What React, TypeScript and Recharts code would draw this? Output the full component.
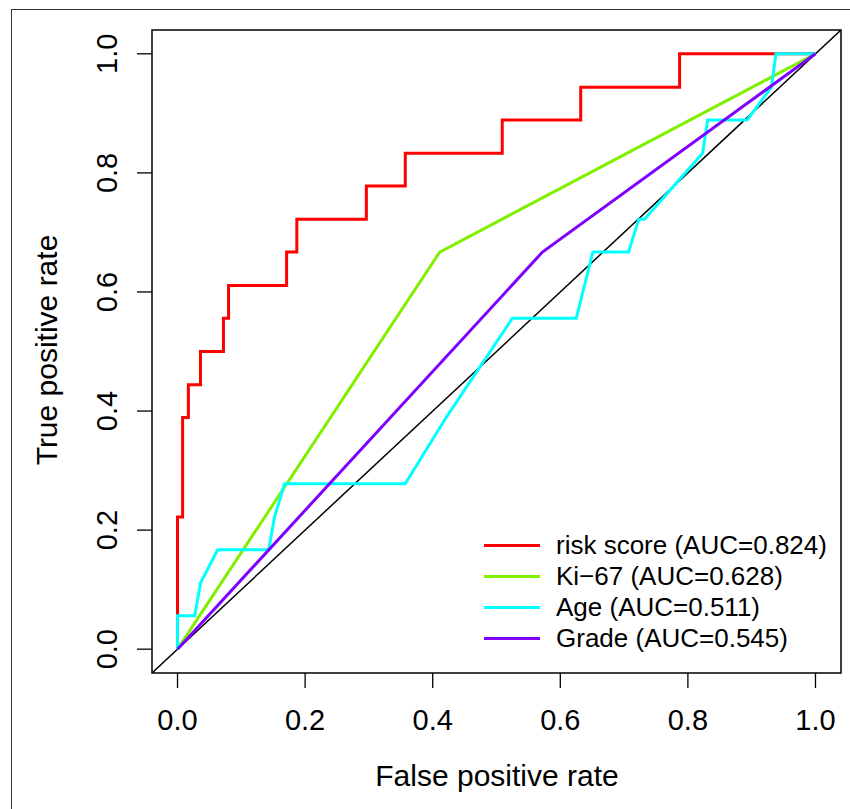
import React from 'react';
import {
  LineChart,
  Line,
  XAxis,
  YAxis,
  ReferenceArea,
} from 'recharts';

// ROC points (FPR, TPR)
const riskFpr = [0, 0, 0.008, 0.008, 0.017, 0.017, 0.036, 0.036, 0.072, 0.072, 0.08, 0.08, 0.171, 0.171, 0.187, 0.187, 0.296, 0.296, 0.357, 0.357, 0.509, 0.509, 0.632, 0.632, 0.787, 0.787, 1];
const riskTpr = [0, 0.222, 0.222, 0.389, 0.389, 0.444, 0.444, 0.5, 0.5, 0.556, 0.556, 0.611, 0.611, 0.667, 0.667, 0.722, 0.722, 0.778, 0.778, 0.833, 0.833, 0.889, 0.889, 0.944, 0.944, 1, 1];

const kiFpr = [0, 0.411, 1];
const kiTpr = [0, 0.667, 1];

const ageFpr = [0, 0, 0.027, 0.036, 0.063, 0.143, 0.152, 0.168, 0.357, 0.421, 0.525, 0.625, 0.651, 0.707, 0.723, 0.732, 0.823, 0.831, 0.893, 0.931, 0.938, 1];
const ageTpr = [0, 0.056, 0.056, 0.111, 0.167, 0.167, 0.222, 0.278, 0.278, 0.389, 0.556, 0.556, 0.667, 0.667, 0.722, 0.722, 0.833, 0.889, 0.889, 0.944, 1, 1];

const gradeFpr = [0, 0.572, 1];
const gradeTpr = [0, 0.667, 1];

const diagonal = [-0.04, 1.04];

const ticks = [0, 0.2, 0.4, 0.6, 0.8, 1];

const seriesNames = ['risk score (AUC=0.824)', 'Ki\u221267 (AUC=0.628)', 'Age (AUC=0.511)', 'Grade (AUC=0.545)'];
const seriesColors = ['#FF0000', '#80F000', '#00FFFF', '#7F00FF'];

const toPoints = (xs: number[], ys: number[]) => xs.map((x, i) => ({ x, y: ys[i] }));

const FONT = '"Liberation Sans", Arial, Helvetica, sans-serif';

const XTick = (props: any) => {
  const { x, y, payload } = props;
  return (
    <text x={x} y={y + 40} textAnchor="middle" fontSize={29} fontFamily={FONT} fill="#000">
      {payload.value.toFixed(1)}
    </text>
  );
};

const YTick = (props: any) => {
  const { y, payload } = props;
  const bx = 117;
  return (
    <text x={bx} y={y} textAnchor="middle" fontSize={29} fontFamily={FONT} fill="#000" transform={`rotate(-90, ${bx}, ${y})`}>
      {payload.value.toFixed(1)}
    </text>
  );
};

const LegendBox = () => (
  <div style={{ position: 'absolute', left: 484, top: 530, fontFamily: FONT, fontSize: 26, color: '#000' }}>
    {seriesNames.map((name, i) => (
      <div key={name} style={{ display: 'flex', alignItems: 'center', height: 31 }}>
        <svg width={72} height={31} style={{ flex: 'none' }}>
          <line x1={0} y1={15.5} x2={56} y2={15.5} stroke={seriesColors[i]} strokeWidth={3} />
        </svg>
        <span style={{ whiteSpace: 'nowrap', lineHeight: '31px' }}>{name}</span>
      </div>
    ))}
  </div>
);

const App: React.FC = () => {
  const series = [
    toPoints(riskFpr, riskTpr),
    toPoints(kiFpr, kiTpr),
    toPoints(ageFpr, ageTpr),
    toPoints(gradeFpr, gradeTpr),
  ];

  return (
    <div style={{ position: 'absolute', left: 0, top: 0, width: 850, height: 809, overflow: 'hidden', background: '#fff' }}>
      <div
        style={{
          position: 'absolute',
          left: 11,
          top: 9,
          width: 860,
          height: 820,
          borderLeft: '1.5px solid #333',
          borderTop: '1.5px solid #333',
        }}
      />
      <div style={{ position: 'absolute', left: 0, top: 0 }}>
        <LineChart width={850} height={809} margin={{ top: 30, right: 9, bottom: 36, left: 52 }}>
          <XAxis
            dataKey="x"
            type="number"
            domain={[-0.04, 1.04]}
            ticks={ticks}
            allowDataOverflow
            axisLine={false}
            tickLine={{ stroke: '#000', strokeWidth: 1.3 }}
            tickSize={15}
            height={100}
            tick={<XTick />}
            label={{
              content: () => (
                <text x={497} y={786} textAnchor="middle" fontSize={30} fontFamily={FONT} fill="#000">
                  False positive rate
                </text>
              ),
            }}
          />
          <YAxis
            dataKey="y"
            type="number"
            domain={[-0.04, 1.04]}
            ticks={ticks}
            allowDataOverflow
            axisLine={false}
            tickLine={{ stroke: '#000', strokeWidth: 1.3 }}
            tickSize={15}
            width={100}
            tick={<YTick />}
            label={{
              content: () => (
                <text x={57} y={350} textAnchor="middle" fontSize={30} fontFamily={FONT} fill="#000" transform="rotate(-90, 57, 350)">
                  True positive rate
                </text>
              ),
            }}
          />
          <ReferenceArea x1={-0.04} x2={1.04} y1={-0.04} y2={1.04} fill="none" stroke="#000" strokeWidth={1.5} />
          <Line
            data={toPoints(diagonal, diagonal)}
            dataKey="y"
            stroke="#000"
            strokeWidth={1.5}
            dot={false}
            isAnimationActive={false}
            legendType="none"
          />
          {series.map((pts, i) => (
            <Line
              key={seriesNames[i]}
              data={pts}
              dataKey="y"
              name={seriesNames[i]}
              stroke={seriesColors[i]}
              strokeWidth={3}
              dot={false}
              isAnimationActive={false}
            />
          ))}
        </LineChart>
      </div>
      <LegendBox />
    </div>
  );
};

export default App;
